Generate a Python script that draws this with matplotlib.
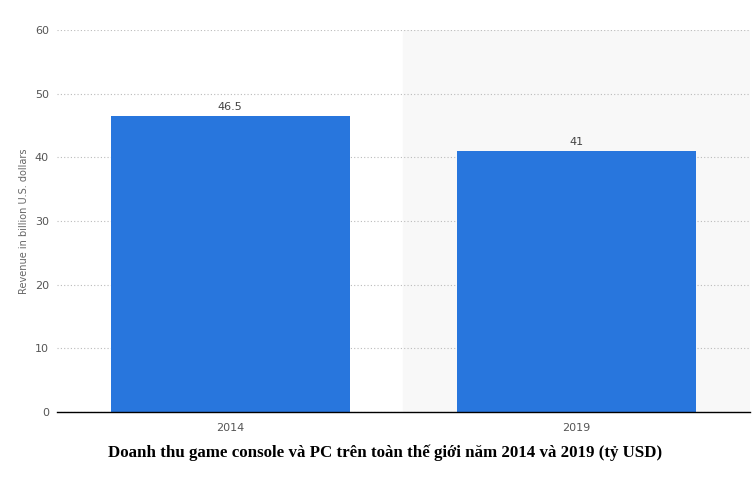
import matplotlib.pyplot as plt

years = ['2014', '2019']
revenue = [46.5, 41]
value_labels = ['46.5', '41']
y_ticks = [0, 10, 20, 30, 40, 50, 60]

fig = plt.figure(figsize=(7.52, 4.83), dpi=100)
ax = fig.add_axes([0.076, 0.147, 0.921, 0.791])

x = range(len(years))
ax.axvspan(0.5, 1.5, color='#f8f8f8', zorder=0)
bars = ax.bar(x, revenue, width=0.69, color='#2876dd', zorder=3)
for b, lab in zip(bars, value_labels):
    ax.text(b.get_x() + b.get_width() / 2, b.get_height() + 0.6, lab,
            ha='center', va='bottom', fontsize=8, color='#444444')

ax.set_xlim(-0.5, 1.5)
ax.set_ylim(0, 60)
ax.set_yticks(y_ticks)
ax.set_xticks(list(x))
ax.set_xticklabels(years)
ax.yaxis.grid(True, linestyle=(0, (1, 2)), color='#bbbbbb', linewidth=0.8, zorder=1)
ax.tick_params(axis='both', length=0, labelsize=8, labelcolor='#555555', pad=8)
ax.tick_params(axis='y', pad=6)
for s in ['top', 'right', 'left']:
    ax.spines[s].set_visible(False)
ax.spines['bottom'].set_color('black')
ax.spines['bottom'].set_linewidth(1.0)
ax.spines['bottom'].set_zorder(4)
ax.set_ylabel('Revenue in billion U.S. dollars', fontsize=7, color='#666666', labelpad=4)

fig.text(0.512, 0.062, 'Doanh thu game console và PC trên toàn thế giới năm 2014 và 2019 (tỷ USD)',
         ha='center', va='center', fontsize=12.2, fontweight='bold',
         family=['Liberation Serif', 'DejaVu Serif'])

fig.savefig('out.png', dpi=100)
